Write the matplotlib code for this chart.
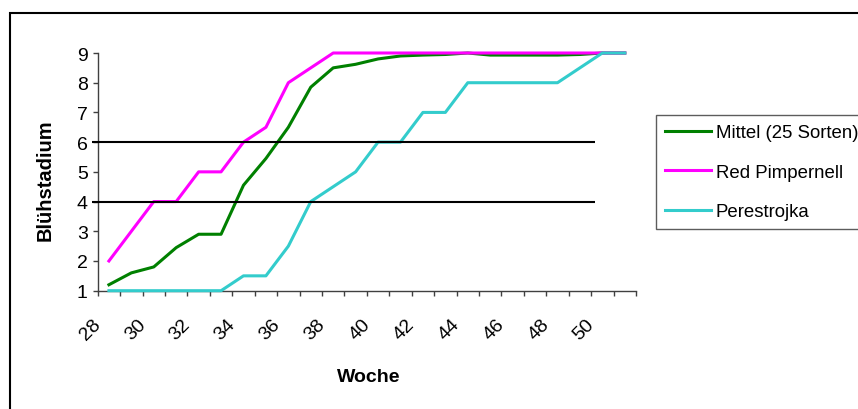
import matplotlib
matplotlib.use('Agg')
import matplotlib.pyplot as plt
import matplotlib.transforms as mtransforms
from matplotlib.patches import Rectangle

plt.rcParams['font.family'] = ['Liberation Sans', 'DejaVu Sans']

# ── Data ──────────────────────────────────────────────────────────────────────
weeks = list(range(28, 52))
mittel = [1.2, 1.6, 1.8, 2.45, 2.9, 2.9, 4.55, 5.45, 6.5, 7.85, 8.5, 8.62,
          8.8, 8.9, 8.93, 8.95, 9.0, 8.93, 8.93, 8.93, 8.93, 8.95, 9.0, 9.0]
red_pimpernell = [2, 3, 4, 4, 5, 5, 6, 6.5, 8, 8.5, 9, 9,
                  9, 9, 9, 9, 9, 9, 9, 9, 9, 9, 9, 9]
perestrojka = [1, 1, 1, 1, 1, 1, 1.5, 1.5, 2.5, 4, 4.5, 5,
               6, 6, 7, 7, 8, 8, 8, 8, 8, 8.5, 9, 9]
series_names = ['Mittel (25 Sorten)', 'Red Pimpernell', 'Perestrojka']
series_colors = ['#008000', '#FF00FF', '#33CCCC']
ref_levels = [6, 4]
y_ticks = list(range(1, 10))
x_label_weeks = [w for w in weeks if w % 2 == 0 and w <= 50]

W, H = 858, 410
fig = plt.figure(figsize=(W / 100, H / 100), dpi=100)
ax = fig.add_axes([97.7 / W, 118.3 / H, 538.3 / W, 237.7 / H])

pos = list(range(len(weeks)))
handles = []
for vals, name, color in zip([mittel, red_pimpernell, perestrojka], series_names, series_colors):
    h, = ax.plot(pos, vals, color=color, lw=2.2, label=name, clip_on=False, zorder=3)
    handles.append(h)

# drawn reference lines (shapes in the original)
ax.hlines(ref_levels, -0.77, 21.67, colors='black', lw=1.5, clip_on=False, zorder=5)

ax.set_xlim(-0.5, len(weeks) - 0.5)
ax.set_ylim(1, 9)
for s in ['top', 'right']:
    ax.spines[s].set_visible(False)
for s in ['left', 'bottom']:
    ax.spines[s].set_color('#404040')
    ax.spines[s].set_linewidth(1)

ax.set_yticks(y_ticks)
ax.set_yticklabels([str(v) for v in y_ticks], fontsize=14)
ax.tick_params(axis='y', length=3.6, width=1, pad=3.6, color='#404040')

ax.set_xticks([p - 0.5 for p in pos] + [len(weeks) - 0.5])
ax.set_xticklabels([])
ax.tick_params(axis='x', which='major', length=3.6, width=1, color='#404040')
ax.set_xticks([weeks.index(w) for w in x_label_weeks], minor=True)
ax.set_xticklabels([str(w) for w in x_label_weeks], minor=True, fontsize=14,
                   rotation=45, ha='center', va='center')
ax.tick_params(axis='x', which='minor', length=0, pad=27.5)
shift = mtransforms.ScaledTranslation(-0.185, 0, fig.dpi_scale_trans)
for lab in ax.get_xticklabels(minor=True):
    lab.set_transform(lab.get_transform() + shift)

fig.text(368.7 / W, 1 - 378 / H, 'Woche', fontsize=14, fontweight='bold',
         ha='center', va='center')
fig.text(45 / W, 1 - 180 / H, 'Blühstadium', fontsize=14.5, fontweight='bold',
         rotation=90, ha='center', va='center')

leg = fig.legend(handles=handles, loc='upper left', bbox_to_anchor=(655.7 / W, 1 - 116 / H),
                 fontsize=13.4, frameon=True, fancybox=False, handlelength=2.45,
                 handletextpad=0.28, borderpad=0.5, labelspacing=1.2, borderaxespad=0)
leg.get_frame().set_edgecolor('#333333')
leg.get_frame().set_linewidth(1)

# outer chart frame (right and bottom edges fall outside the picture)
fig.add_artist(Rectangle((10 / W, -0.1), 1.2, 1 - 14 / H + 0.1, transform=fig.transFigure,
                         fill=False, ec='black', lw=1.5))

fig.savefig('out.png', dpi=100)
